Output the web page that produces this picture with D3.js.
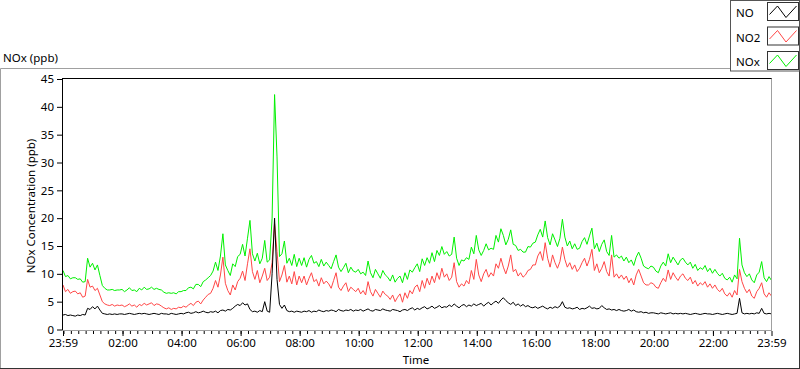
<!DOCTYPE html>
<html><head><meta charset="utf-8">
<script src="https://cdn.jsdelivr.net/npm/d3@7"></script>
<style>
body{margin:0;background:#fff}
svg{display:block}
text{font-family:"Noto Sans",sans-serif;fill:#000}
</style>
</head><body>
<svg id="c" width="800" height="369"></svg>
<script>
// ---- data ----
const startTime = "2000-01-01T23:59:00";
const endTime = "2000-01-02T23:59:00";
const stepMinutes = 5;
const noValues = [
2.6,2.7,2.5,2.6,2.5,2.4,2.6,2.5,2.7,2.6,3.8,3.6,
4.1,3.7,4.2,3.5,2.9,2.8,2.7,2.8,2.7,2.8,2.7,2.8,
2.8,2.7,2.8,2.9,2.8,2.7,2.8,2.9,2.8,2.9,2.8,2.7,
2.8,2.9,2.8,2.7,2.9,2.8,2.8,2.7,2.9,2.8,2.7,2.8,
2.9,2.8,3.0,3.1,2.9,3.0,3.2,3.0,3.1,3.3,3.1,3.0,
3.2,3.1,3.3,3.0,3.4,3.5,3.3,3.6,3.5,3.8,4.2,4.5,
4.3,4.8,4.4,4.6,3.6,3.2,3.3,3.1,3.4,3.2,5.0,3.3,
3.1,10.0,20.0,9.0,4.5,3.8,4.4,3.4,3.2,3.3,3.1,3.3,
3.2,3.1,3.3,3.2,3.4,3.1,3.3,3.2,3.5,3.3,3.2,3.4,
3.3,3.5,3.4,3.2,3.6,3.4,3.3,3.5,3.4,3.6,3.3,3.5,
3.4,3.6,3.3,3.5,3.7,3.4,3.3,3.6,3.5,3.4,3.7,3.5,
3.4,3.3,3.6,3.5,3.4,3.2,3.5,3.6,3.4,3.7,3.9,3.5,
3.8,3.6,3.9,4.1,3.7,3.9,4.2,3.8,4.0,4.3,3.9,4.1,
4.0,4.4,4.1,4.6,4.2,3.9,4.3,4.5,4.1,4.4,4.2,4.6,
4.3,4.5,4.7,4.2,4.6,4.9,4.4,4.8,5.1,4.7,5.3,5.7,
5.2,4.8,4.5,4.9,4.3,4.6,4.2,4.5,4.1,4.3,4.0,3.9,
4.1,3.8,4.0,4.2,3.9,3.7,4.0,3.8,4.1,3.9,4.2,5.0,
4.0,3.8,3.9,3.7,3.8,4.0,3.6,3.8,3.7,3.9,4.2,3.8,
3.9,3.7,3.8,4.3,3.9,3.6,3.7,3.5,3.6,3.4,3.6,3.4,
3.3,3.4,3.6,3.3,3.5,3.2,3.1,3.2,3.0,3.1,2.9,3.0,
3.0,2.9,2.8,3.0,2.9,2.8,2.9,3.0,2.8,2.9,2.8,2.9,
2.8,2.9,2.8,2.7,2.8,2.9,2.8,2.7,2.8,2.9,2.8,2.8,
2.7,2.8,2.9,2.8,2.7,2.8,2.9,2.8,2.7,2.8,2.9,5.6,
3.0,2.8,2.9,2.8,2.9,2.8,3.0,2.9,3.8,2.9,2.8,2.9,
2.8];
const no2Values = [
8.0,6.8,7.2,6.5,6.8,6.9,6.4,6.6,5.8,6.0,9.0,7.6,
7.8,7.0,7.4,6.2,5.0,4.6,4.4,4.3,4.5,4.2,4.4,4.3,
4.4,4.1,4.3,4.6,4.2,4.4,4.0,4.5,4.3,4.7,4.4,4.6,
4.8,4.3,4.6,4.5,4.2,3.9,3.7,3.9,3.6,3.8,3.7,4.0,
3.9,4.2,4.0,4.4,4.7,4.3,4.9,5.1,4.6,5.3,5.8,6.3,
6.5,7.4,8.8,7.6,9.8,13.0,8.3,7.0,6.2,8.0,7.1,8.6,
9.2,10.5,8.8,11.8,14.5,10.4,9.0,10.6,8.4,9.6,11.0,8.8,
9.4,12.0,19.0,14.0,8.6,9.8,11.5,8.5,9.6,8.2,10.4,8.0,
9.6,8.4,9.6,8.0,9.2,10.2,8.6,9.0,7.8,9.3,8.2,8.7,
8.2,7.4,8.8,10.2,7.6,7.0,7.8,8.4,6.8,7.6,7.2,6.8,
7.4,6.4,7.0,6.2,8.6,6.8,6.0,7.2,6.5,5.8,6.9,6.3,
6.0,5.4,6.2,5.0,5.8,6.4,4.9,6.6,5.6,7.0,6.4,7.6,
8.0,6.8,8.8,7.4,9.2,8.0,9.6,8.4,10.2,9.0,11.0,9.4,
10.0,8.8,9.4,12.0,8.6,7.6,8.2,7.8,8.8,8.2,10.6,9.0,
12.6,9.8,8.6,10.0,10.8,9.4,10.2,9.6,11.8,11.0,12.8,11.2,
10.0,11.4,13.4,10.4,10.8,9.6,10.2,9.4,9.8,10.6,10.8,11.6,
11.6,13.2,14.0,12.4,15.6,12.8,11.2,13.4,12.0,11.0,12.2,14.8,
12.6,11.2,12.0,10.8,11.6,10.4,11.0,12.0,12.8,11.4,12.6,14.4,
10.6,11.8,10.2,11.0,12.2,10.4,9.6,13.4,9.4,10.0,9.2,9.8,
9.0,9.6,8.4,9.2,8.0,9.8,10.8,9.6,8.4,8.0,8.0,8.4,
8.2,7.6,7.4,8.4,9.2,8.6,10.7,9.0,10.2,9.4,8.8,9.6,
10.0,9.2,8.8,9.4,8.2,8.8,7.8,8.4,8.0,8.6,7.6,8.2,
7.4,8.0,7.2,6.8,7.4,6.4,6.0,6.6,5.8,7.0,6.2,10.8,
8.6,7.4,6.6,7.2,6.0,5.6,6.8,7.4,8.4,6.4,5.8,6.6,
6.0];
const noxValues = [
10.6,9.5,9.7,9.1,9.3,9.3,9.0,9.1,8.5,8.6,12.8,11.2,
11.9,10.7,11.6,9.7,7.9,7.4,7.1,7.1,7.2,7.0,7.1,7.1,
7.2,6.8,7.1,7.5,7.0,7.1,6.8,7.4,7.1,7.6,7.2,7.3,
7.6,7.2,7.4,7.2,7.1,6.7,6.5,6.6,6.5,6.6,6.4,6.8,
6.8,7.0,7.0,7.5,7.6,7.3,8.1,8.1,7.7,8.6,8.9,9.3,
9.7,10.5,12.1,10.6,13.2,17.2,11.6,10.6,9.7,11.8,11.3,13.1,
13.5,15.3,13.2,16.4,19.6,13.6,12.3,13.7,11.8,12.8,16.0,12.1,
12.5,20.0,42.2,31.0,13.1,13.6,15.9,11.9,12.8,11.5,13.5,11.3,
12.8,11.5,12.9,11.2,12.6,13.3,11.9,12.2,11.3,12.6,11.4,12.1,
11.5,10.9,12.2,13.4,11.2,10.4,11.1,11.9,10.2,11.2,10.5,10.3,
10.8,10.0,10.3,9.7,12.3,10.2,9.3,10.8,10.0,9.2,10.6,9.8,
9.4,8.7,9.8,8.5,9.2,9.6,8.4,10.2,9.0,10.7,10.3,11.1,
11.8,10.4,12.7,11.5,12.9,11.9,13.8,12.2,14.2,13.3,14.9,13.5,
14.0,13.2,13.5,16.6,12.8,11.5,12.5,12.3,12.9,12.6,14.8,13.6,
16.9,14.3,13.3,14.2,15.4,14.3,14.6,14.4,16.9,15.7,18.1,16.9,
15.2,16.2,17.9,15.3,15.1,14.2,14.4,13.9,13.9,14.9,14.8,15.5,
15.7,17.0,18.0,16.6,19.5,16.5,15.2,17.2,16.1,14.9,16.4,19.8,
16.6,15.0,15.9,14.5,15.4,14.4,14.6,15.8,16.5,15.3,16.8,18.2,
14.5,15.5,14.0,15.3,16.1,14.0,13.3,16.9,13.0,13.4,12.8,13.2,
12.3,13.0,12.0,12.5,11.5,13.0,13.9,12.8,11.4,11.1,10.9,11.4,
11.2,10.5,10.2,11.4,12.1,11.4,13.6,12.0,13.0,12.3,11.6,12.5,
12.8,12.1,11.6,12.1,11.0,11.7,10.6,11.1,10.8,11.5,10.4,11.0,
10.1,10.8,10.1,9.6,10.1,9.2,8.9,9.4,8.5,9.8,9.1,16.4,
11.6,10.2,9.5,10.0,8.9,8.4,9.8,10.3,12.2,9.3,8.6,9.5,
8.8];
const yTickValues = [0,5,10,15,20,25,30,35,40,45];
const xMajorTickTimes = ["2000-01-01T23:59","2000-01-02T02:00","2000-01-02T04:00","2000-01-02T06:00",
  "2000-01-02T08:00","2000-01-02T10:00","2000-01-02T12:00","2000-01-02T14:00","2000-01-02T16:00",
  "2000-01-02T18:00","2000-01-02T20:00","2000-01-02T22:00","2000-01-02T23:59"];
const seriesNames = ["NO","NO2","NOx"];
const chartTitle = "NOx (ppb)";
const yAxisTitle = "NOx Concentration (ppb)";
const xAxisTitle = "Time";

// ---- styles ----
const seriesColors = ["#000000","#ff4646","#00f000"];

// ---- drawing ----
const svg = d3.select("#c");
const t0 = new Date(startTime), t1 = new Date(endTime);
const times = noValues.map((_, i) => d3.timeMinute.offset(t0, i * stepMinutes));
const series = [noValues, no2Values, noxValues];

const plot = {left: 62, right: 772, top: 79, bottom: 330};
const x = d3.scaleTime().domain([t0, t1]).range([63, 771.5]);
const y = d3.scaleLinear().domain([0, 45]).range([329.5, 79]);

// outer frame
svg.append("line").attr("x1",0.5).attr("y1",68.5).attr("x2",799).attr("y2",68.5).attr("stroke","#a0a0a0");
svg.append("line").attr("x1",0.5).attr("y1",68.5).attr("x2",0.5).attr("y2",368.5).attr("stroke","#a0a0a0");
svg.append("line").attr("x1",0).attr("y1",368.5).attr("x2",800).attr("y2",368.5).attr("stroke","#333");
svg.append("line").attr("x1",799.5).attr("y1",68).attr("x2",799.5).attr("y2",369).attr("stroke","#333");

// title
svg.append("text").attr("x",3).attr("y",62).attr("font-size","11.5px").text(chartTitle);

// plot background
svg.append("rect").attr("x",plot.left).attr("y",plot.top).attr("width",plot.right-plot.left).attr("height",plot.bottom-plot.top).attr("fill","#fff");

svg.append("clipPath").attr("id","clip").append("rect")
  .attr("x",plot.left+1).attr("y",plot.top).attr("width",plot.right-plot.left-1).attr("height",plot.bottom-plot.top);

const line = (vals) => d3.line().x((d,i)=>x(times[i])).y(d=>y(d))(vals);
const g = svg.append("g").attr("clip-path","url(#clip)");
[2,1,0].forEach(k => {
  g.append("path").attr("d", line(series[k])).attr("fill","none")
   .attr("stroke", seriesColors[k]).attr("stroke-width",1);
});

// plot frame
svg.append("line").attr("x1",plot.left).attr("y1",78.5).attr("x2",plot.right).attr("y2",78.5).attr("stroke","#000");
svg.append("line").attr("x1",62.5).attr("y1",78.5).attr("x2",62.5).attr("y2",330).attr("stroke","#000");
svg.append("line").attr("x1",771.5).attr("y1",78.5).attr("x2",771.5).attr("y2",330.5).attr("stroke","#a0a0a0");
svg.append("line").attr("x1",62).attr("y1",330.5).attr("x2",772).attr("y2",330.5).attr("stroke","#a0a0a0");

// y axis
const yAxis = d3.axisLeft(y).tickValues(yTickValues).tickSize(5).tickPadding(3);
const gy = svg.append("g").attr("transform","translate(62,0)").call(yAxis);
gy.select(".domain").remove();
gy.selectAll("text").attr("font-size","11.5px").attr("font-family","Noto Sans").attr("fill","#000");

// x axis minor ticks
const minorTicks = d3.timeMinute.every(15).range(d3.timeMinute.offset(t0,1), t1);
const gxm = svg.append("g").attr("transform","translate(0,331)")
  .call(d3.axisBottom(x).tickValues(minorTicks).tickSize(3).tickFormat(""));
gxm.select(".domain").remove();
// x axis major ticks
const majorDates = xMajorTickTimes.map(s => new Date(s));
const gx = svg.append("g").attr("transform","translate(0,331)")
  .call(d3.axisBottom(x).tickValues(majorDates).tickSize(5).tickPadding(3).tickFormat(d3.timeFormat("%H:%M")));
gx.select(".domain").remove();
gx.selectAll("text").attr("font-size","11.5px").attr("font-family","Noto Sans").attr("fill","#000");

// axis titles
svg.append("text").attr("transform","translate(35,206) rotate(-90)").attr("text-anchor","middle")
  .attr("font-size","11.5px").text(yAxisTitle);
svg.append("text").attr("x",416).attr("y",364).attr("text-anchor","middle").attr("font-size","11.5px").text(xAxisTitle);

// legend
const lg = svg.append("g");
lg.append("rect").attr("x",730.5).attr("y",0.5).attr("width",69).attr("height",70.5).attr("fill","#fff").attr("stroke","#555");
const boxY = [2.5, 27, 51.5];
seriesNames.forEach((name, k) => {
  const by = boxY[k];
  lg.append("text").attr("x",736).attr("y",by+14.5).attr("font-size","11.5px").text(name);
  lg.append("rect").attr("x",767.5).attr("y",by).attr("width",31).attr("height",18).attr("fill","#fff").attr("stroke","#333");
  lg.append("path").attr("d", d3.line()([[769.5,by+12],[777.5,by+3.5],[786,by+15],[796.5,by+3.5]]))
    .attr("fill","none").attr("stroke",seriesColors[k]).attr("stroke-width",1);
});
</script>
</body></html>
